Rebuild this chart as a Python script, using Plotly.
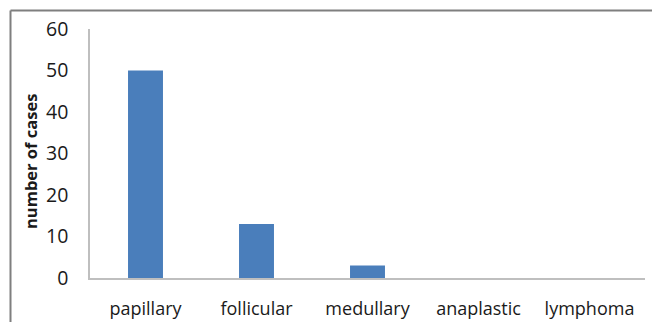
import plotly.graph_objects as go

categories = ["papillary", "follicular", "medullary", "anaplastic", "lymphoma"]
cases = [50, 13, 3, 0, 0]
y_ticks = [0, 10, 20, 30, 40, 50, 60]

W, H = 652, 322
L, R, T, B = 90, 7, 29, 44
pw, ph = W - L - R, H - T - B

def px_x(x):
    return (x - L) / pw

def px_y(y):
    return (H - B - y) / ph

fig = go.Figure(go.Bar(
    x=categories, y=cases,
    marker=dict(color="#4A7EBB", line=dict(width=0)),
))

font_family = "Open Sans, Liberation Sans, sans-serif"

fig.update_layout(
    width=W, height=H,
    margin=dict(l=L, r=R, t=T, b=B),
    paper_bgcolor="white", plot_bgcolor="white",
    bargap=0.685,
    showlegend=False,
    font=dict(family=font_family, size=18, color="#1a1a1a"),
)
fig.update_xaxes(
    showline=True, linecolor="#BFBFBF", linewidth=1.5,
    showgrid=False, ticks="", tickfont=dict(size=18),
    ticklabelstandoff=14, automargin=False,
)
fig.update_yaxes(
    range=[0, 60], tickvals=y_ticks,
    showline=True, linecolor="#BFBFBF", linewidth=1.5,
    showgrid=False, zeroline=False, ticks="", tickfont=dict(size=19.5),
    ticklabelstandoff=16, automargin=False,
)
fig.add_annotation(
    text="<b>number of cases</b>", textangle=-90,
    xref="paper", yref="paper", x=px_x(30), y=px_y(162),
    showarrow=False, font=dict(size=16.5, family=font_family, color="#1a1a1a"),
    xanchor="center", yanchor="middle",
)
# outer frame (top and left visible edges)
fig.add_shape(type="line", xref="paper", yref="paper",
              x0=px_x(10.5), x1=px_x(660), y0=px_y(10.5), y1=px_y(10.5),
              line=dict(color="#7F7F7F", width=2))
fig.add_shape(type="line", xref="paper", yref="paper",
              x0=px_x(10.5), x1=px_x(10.5), y0=px_y(10.5), y1=px_y(330),
              line=dict(color="#7F7F7F", width=2))

fig.write_html("out.html", config={"displayModeBar": False},
               post_script="document.body.style.margin='0';document.body.style.overflow='hidden';")
